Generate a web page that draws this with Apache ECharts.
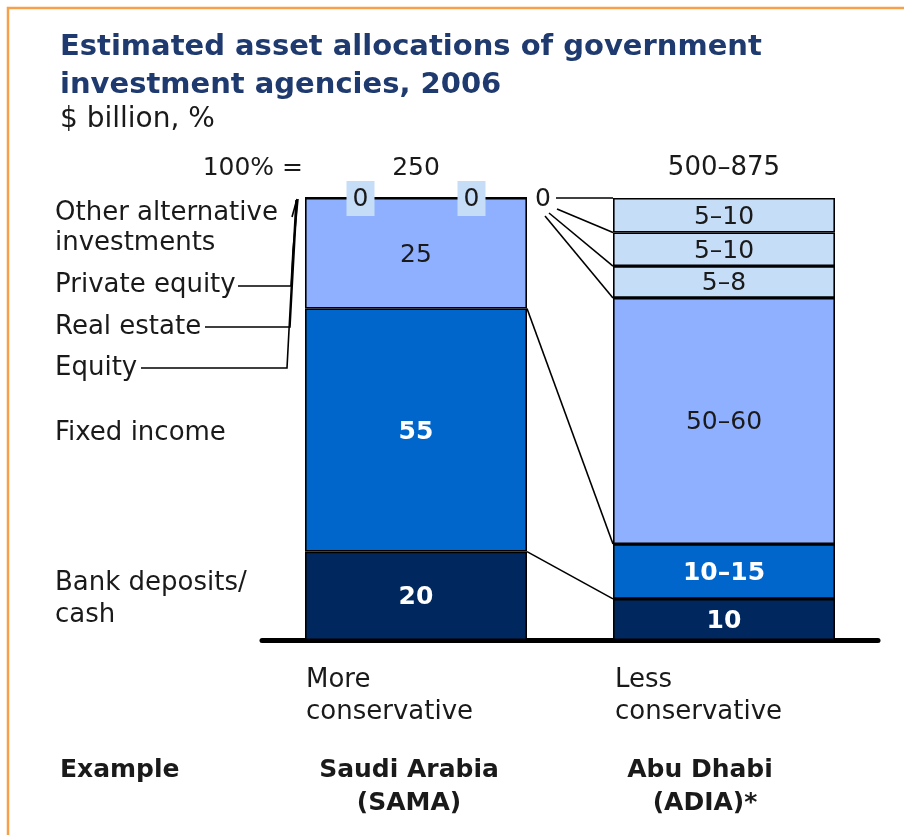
<!DOCTYPE html>
<html>
<head>
<meta charset="utf-8">
<script src="https://cdn.jsdelivr.net/npm/echarts@6/dist/echarts.min.js"></script>
<style>
html, body { margin: 0; padding: 0; background: #fff; }
#chart { width: 904px; height: 835px; }
</style>
</head>
<body>
<div id="chart"></div>
<script>
// data (bar heights in %, labels as printed)
var categories = ['Saudi Arabia (SAMA)', 'Abu Dhabi (ADIA)*']
var segmentNames = ['Bank deposits/cash', 'Fixed income', 'Equity', 'Real estate', 'Private equity', 'Other alternative investments']
var samaValues = [20, 55, 25, 0, 0, 0]
var adiaValues = [9.3, 12.4, 55.7, 7.2, 7.6, 7.8]
var samaLabels = ['20', '55', '25', '0', '0', '0']
var adiaLabels = ['10', '10–15', '50–60', '5–8', '5–10', '5–10']
var totals = ['250', '500–875']

var FONT = '"DejaVu Sans", sans-serif'
var segmentColors = ['#00285e', '#0066cc', '#8fb0ff', '#c6ddf8', '#c6ddf8', '#c6ddf8']
var darkSegment = [true, true, false, false, false, false]
var BAR_W = 222

var chart = echarts.init(document.getElementById('chart'))

var series = segmentNames.map(function (name, i) {
  return {
    name: name,
    type: 'bar',
    stack: 'total',
    barWidth: BAR_W,
    itemStyle: { color: segmentColors[i], borderColor: '#000', borderWidth: 1.6 },
    label: {
      show: true,
      position: 'inside',
      offset: [0, 2],
      fontFamily: FONT,
      fontSize: 25,
      fontWeight: darkSegment[i] ? 'bold' : 'normal',
      color: darkSegment[i] ? '#fff' : '#1a1a1a',
      formatter: function (p) {
        return p.dataIndex === 0 ? samaLabels[i] : adiaLabels[i]
      }
    },
    data: [
      { value: samaValues[i], label: { show: samaValues[i] > 0 } },
      adiaValues[i]
    ]
  }
})

chart.setOption({
  animation: false,
  grid: { left: 262, width: 616, top: 198, height: 442 },
  xAxis: {
    type: 'category',
    data: categories,
    axisLine: { lineStyle: { color: '#000', width: 5 } },
    axisTick: { show: false },
    axisLabel: { show: false }
  },
  yAxis: { type: 'value', min: 0, max: 100, show: false },
  series: series
})

// positions from the axes
function px(ci, v) {
  return chart.convertToPixel({ gridIndex: 0 }, [categories[ci], v])
}
function cum(arr, n) {
  var s = 0
  for (var k = 0; k < n; k++) s += arr[k]
  return s
}

var g = []
function txt(s, x, y, opt) {
  opt = opt || {}
  g.push({
    type: 'text', x: x, y: y, z: 20,
    style: {
      text: s,
      fontFamily: FONT,
      fontSize: opt.size || 26,
      fontWeight: opt.bold ? 'bold' : 'normal',
      fill: opt.color || '#1a1a1a',
      textAlign: opt.align || 'left',
      textVerticalAlign: 'middle'
    }
  })
}
function line(points, z) {
  g.push({
    type: 'polyline', z: z || 15,
    shape: { points: points },
    style: { stroke: '#000', lineWidth: 1.6, fill: null }
  })
}

// orange frame
g.push({
  type: 'polyline', z: 5,
  shape: { points: [[8, 835], [8, 8], [904, 8]] },
  style: { stroke: '#f7a04a', lineWidth: 2.5, fill: null }
})

// titles
txt('Estimated asset allocations of government', 60, 47, { size: 29, bold: true, color: '#1f3a6e' })
txt('investment agencies, 2006', 60, 85, { size: 29, bold: true, color: '#1f3a6e' })
txt('$ billion, %', 60, 120, { size: 28 })

var sBot = px(0, 0), sTop = px(0, 100)
var aBot = px(1, 0)
var sL = sBot[0] - BAR_W / 2, sR = sBot[0] + BAR_W / 2
var aL = aBot[0] - BAR_W / 2

// totals row
txt('100% =', sL - 2, 168, { align: 'right', size: 25 })
txt(totals[0], sBot[0], 168, { align: 'center', size: 25 })
txt(totals[1], aBot[0], 168, { align: 'center', size: 26 })

// left segment labels
txt('Other alternative', 55, 213)
txt('investments', 55, 243)
txt('Private equity', 55, 285)
txt('Real estate', 55, 327)
txt('Equity', 55, 368)
var fiMid = px(0, cum(samaValues, 1) + samaValues[1] / 2)[1]
txt('Fixed income', 55, fiMid + 3)
var bdMid = px(0, samaValues[0] / 2)[1]
txt('Bank deposits/', 55, bdMid - 13)
txt('cash', 55, bdMid + 19)

// leader lines from the left labels to the bar top
var topY = sTop[1]
line([[141, 368], [sL - 18, 368], [sL - 16, 330], [sL - 9, topY + 2]])
line([[205, 327], [sL - 15, 327], [sL - 13, 290], [sL - 8, topY + 2]])
line([[238, 286], [sL - 14, 286], [sL - 12, 250], [sL - 7, topY + 1]])
line([[sL - 13, 217], [sL - 8, topY + 1]])

// zero labels at the top of the SAMA bar
var zeroXs = [sL + BAR_W / 4, sL + BAR_W * 3 / 4]
zeroXs.forEach(function (x, k) {
  g.push({
    type: 'rect', z: 18,
    shape: { x: x - 14, y: topY - 17, width: 28, height: 35 },
    style: { fill: '#c6ddf8' }
  })
  txt(samaLabels[3 + k], x, topY + 1, { align: 'center', size: 25 })
})
txt(samaLabels[5], sR + 16, topY + 1, { align: 'center', size: 25 })

// connector lines between the bars
line([[sR, px(0, cum(samaValues, 1))[1]], [aL, px(1, cum(adiaValues, 1))[1]]])
line([[sR, px(0, cum(samaValues, 2))[1]], [aL, px(1, cum(adiaValues, 2))[1]]])
line([[sR + 29, topY], [aL, px(1, 100)[1]]])
line([[sR + 30, topY + 11], [aL, px(1, cum(adiaValues, 5))[1]]])
line([[sR + 22, topY + 15], [aL, px(1, cum(adiaValues, 4))[1]]])
line([[sR + 18, topY + 18], [aL, px(1, cum(adiaValues, 3))[1]]])

// bottom notes
txt('More', sL + 1, 680)
txt('conservative', sL + 1, 712)
txt('Less', aL + 2, 680)
txt('conservative', aL + 2, 712)
txt('Example', 60, 770, { bold: true, size: 25 })
txt('Saudi Arabia', 409, 770, { bold: true, align: 'center', size: 25 })
txt('(SAMA)', 409, 803, { bold: true, align: 'center', size: 25 })
txt('Abu Dhabi', 700, 770, { bold: true, align: 'center', size: 25 })
txt('(ADIA)*', 705, 803, { bold: true, align: 'center', size: 25 })

chart.setOption({ graphic: g })
</script>
</body>
</html>
